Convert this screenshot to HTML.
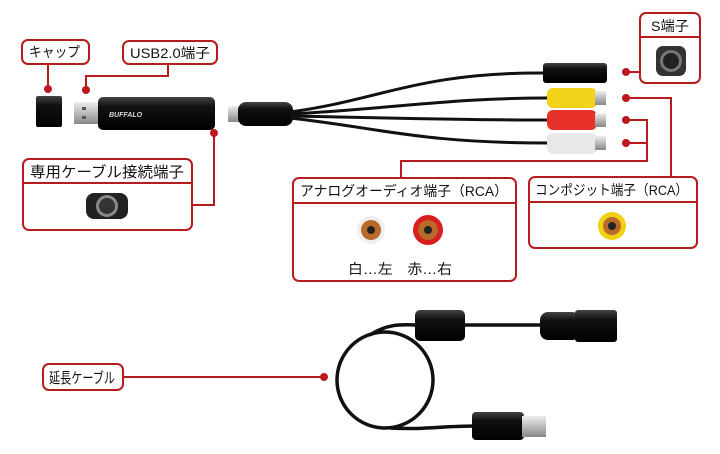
<!DOCTYPE html>
<html><head><meta charset="utf-8"><style>
html,body{margin:0;padding:0;background:#fff;}
svg{display:block;}
text{font-family:"Liberation Sans","Noto Sans CJK JP",sans-serif;font-size:13px;fill:#111;}
</style></head><body>
<svg width="720" height="454" viewBox="0 0 720 454" xmlns="http://www.w3.org/2000/svg">
<defs>
<linearGradient id="blk" x1="0" y1="0" x2="0" y2="1"><stop offset="0" stop-color="#444"/><stop offset="0.3" stop-color="#111"/><stop offset="1" stop-color="#000"/></linearGradient>
<linearGradient id="met" x1="0" y1="0" x2="0" y2="1"><stop offset="0" stop-color="#eee"/><stop offset="0.5" stop-color="#bbb"/><stop offset="1" stop-color="#888"/></linearGradient>
</defs>
<g fill="none" stroke="#b71c1c" stroke-width="2">
<rect x="22" y="40" width="67" height="24" rx="6" fill="#fff"/>
<rect x="123" y="41" width="94" height="23" rx="6" fill="#fff"/>
<rect x="23" y="159" width="169" height="71" rx="6" fill="#fff"/>
<line x1="23" y1="183" x2="192" y2="183"/>
<rect x="640" y="13" width="60" height="70" rx="6" fill="#fff"/>
<line x1="640" y1="37" x2="700" y2="37"/>
<rect x="529" y="177" width="168" height="71" rx="6" fill="#fff"/>
<line x1="529" y1="202" x2="697" y2="202"/>
<rect x="293" y="178" width="223" height="103" rx="6" fill="#fff"/>
<line x1="293" y1="203" x2="516" y2="203"/>
<rect x="43" y="364" width="80" height="26" rx="6" fill="#fff"/>
<polyline points="48,64 48,89"/>
<polyline points="168,64 168,76 86,76 86,90"/>
<polyline points="214,133 214,205 192,205"/>
<polyline points="627,72 640,72"/>
<polyline points="627,98 671,98 671,177"/>
<polyline points="627,120 647,120 647,143 627,143"/>
<polyline points="647,143 647,161 401,161 401,178"/>
<polyline points="123,377 324,377"/>
</g>
<g fill="#c0161d">
<circle cx="48" cy="89" r="4"/><circle cx="86" cy="90" r="4"/><circle cx="214" cy="133" r="4"/>
<circle cx="626" cy="72" r="4"/><circle cx="626" cy="98" r="4"/><circle cx="626" cy="120" r="4"/><circle cx="626" cy="143" r="4"/>
<circle cx="324" cy="377" r="4"/>
</g>
<text x="29" y="57" textLength="51" lengthAdjust="spacingAndGlyphs" style="font-size:14px">キャップ</text>
<text x="130" y="58" textLength="80" lengthAdjust="spacingAndGlyphs" style="font-size:14px">USB2.0端子</text>
<text x="30" y="177" textLength="154" lengthAdjust="spacingAndGlyphs" style="font-size:15px">専用ケーブル接続端子</text>
<text x="651" y="31" textLength="38" lengthAdjust="spacingAndGlyphs" style="font-size:14px">S端子</text>
<text x="535" y="195" textLength="153" lengthAdjust="spacingAndGlyphs" style="font-size:14px">コンポジット端子（RCA）</text>
<text x="300" y="196" textLength="208" lengthAdjust="spacingAndGlyphs" style="font-size:14px">アナログオーディオ端子（RCA）</text>
<text x="348" y="274" textLength="104" lengthAdjust="spacingAndGlyphs" style="font-size:14px">白…左　赤…右</text>
<text x="49" y="383" textLength="66" lengthAdjust="spacingAndGlyphs" style="font-size:15px">延長ケーブル</text>
<rect x="36" y="96" width="26" height="31" rx="2" fill="url(#blk)"/>
<rect x="74" y="102" width="26" height="22" fill="url(#met)"/>
<rect x="82" y="107" width="4" height="3" fill="#555"/><rect x="82" y="116" width="4" height="3" fill="#555"/>
<rect x="98" y="97" width="117" height="33" rx="5" fill="url(#blk)"/>
<text x="109" y="117" style="font-size:7px;font-weight:bold;font-style:italic;fill:#ddd">BUFFALO</text>
<rect x="86" y="193" width="42" height="26" rx="8" fill="#222"/>
<circle cx="107" cy="206" r="11" fill="#888"/><circle cx="107" cy="206" r="8" fill="#333"/>
<rect x="228" y="106" width="12" height="16" fill="url(#met)"/>
<rect x="238" y="102" width="55" height="24" rx="8" fill="url(#blk)"/>
<g stroke="#111" stroke-width="3" fill="none">
<path d="M290,112 C380,100 420,72 545,73"/>
<path d="M290,114 C400,108 450,98 548,98"/>
<path d="M290,116 C400,118 450,120 548,120"/>
<path d="M290,118 C380,128 420,143 548,143"/>
</g>
<rect x="543" y="63" width="64" height="20" rx="3" fill="url(#blk)"/>
<rect x="547" y="88" width="50" height="20" rx="6" fill="#f2d21b"/><rect x="595" y="91" width="11" height="14" fill="url(#met)"/>
<rect x="547" y="110" width="50" height="20" rx="6" fill="#e8312a"/><rect x="595" y="113" width="11" height="14" fill="url(#met)"/>
<rect x="547" y="133" width="50" height="21" rx="6" fill="#e8e8e8"/><rect x="595" y="136" width="11" height="14" fill="url(#met)"/>
<rect x="656" y="46" width="30" height="30" rx="7" fill="#333"/><circle cx="671" cy="61" r="11" fill="#777"/><circle cx="671" cy="61" r="8" fill="#222"/>
<circle cx="612" cy="226" r="14" fill="#f0d010"/><circle cx="612" cy="226" r="9" fill="#b86a2a"/><circle cx="612" cy="226" r="4" fill="#222"/>
<circle cx="371" cy="230" r="14" fill="#eee"/><circle cx="371" cy="230" r="10" fill="#b86a2a"/><circle cx="371" cy="230" r="4" fill="#222"/>
<circle cx="428" cy="230" r="15" fill="#d81e1e"/><circle cx="428" cy="230" r="10" fill="#b86a2a"/><circle cx="428" cy="230" r="4" fill="#222"/>
<g stroke="#111" stroke-width="3.5" fill="none">
<ellipse cx="385" cy="380" rx="48" ry="48"/>
<path d="M370,335 C390,322 405,325 420,325 L545,325"/>
<path d="M390,428 C420,430 440,426 478,426"/>
</g>
<rect x="415" y="310" width="50" height="31" rx="5" fill="url(#blk)"/>
<rect x="540" y="312" width="40" height="28" rx="8" fill="url(#blk)"/>
<rect x="575" y="310" width="42" height="32" rx="3" fill="url(#blk)"/>
<rect x="472" y="412" width="52" height="28" rx="4" fill="url(#blk)"/>
<rect x="522" y="416" width="24" height="21" fill="url(#met)"/>
</svg>
</body></html>
